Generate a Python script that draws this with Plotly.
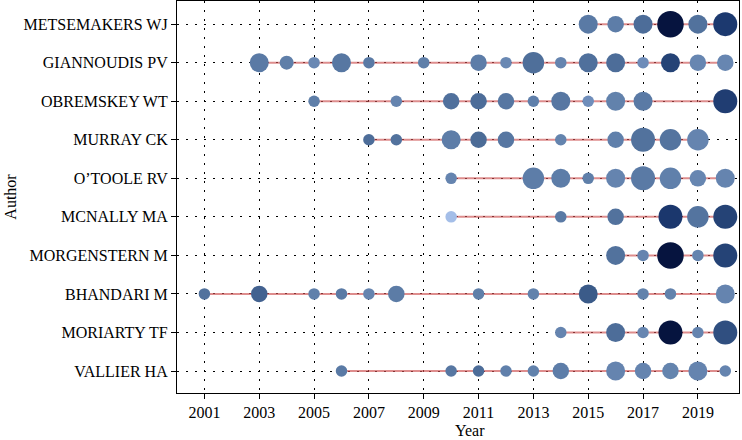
import plotly.graph_objects as go

# authors, bottom to top
authors = ["VALLIER HA", "MORIARTY TF", "BHANDARI M", "MORGENSTERN M", "MCNALLY MA",
           "O\u2019TOOLE RV", "MURRAY CK", "OBREMSKEY WT", "GIANNOUDIS PV", "METSEMAKERS WJ"]

# per author: publication years, number of papers, citation score (colour)
vallier_years = [2006, 2010, 2011, 2012, 2013, 2014, 2016, 2017, 2018, 2019, 2020]
vallier_n = [1, 1, 1, 1, 1, 3, 4, 3, 3, 4, 1]
vallier_tc = [50, 52, 58, 46, 45, 48, 42, 42, 43, 42, 42]

moriarty_years = [2014, 2016, 2017, 2018, 2019, 2020]
moriarty_n = [1, 4, 1, 6, 1, 6]
moriarty_tc = [42, 58, 40, 100, 42, 74]

bhandari_years = [2001, 2003, 2005, 2006, 2007, 2008, 2011, 2013, 2015, 2017, 2018, 2020]
bhandari_n = [1, 3, 1, 1, 1, 3, 1, 1, 4, 1, 1, 4]
bhandari_tc = [55, 64, 46, 50, 42, 49, 47, 45, 68, 45, 45, 42]

morgenstern_years = [2016, 2017, 2018, 2019, 2020]
morgenstern_n = [4, 1, 7, 1, 6]
morgenstern_tc = [55, 42, 100, 42, 80]

mcnally_years = [2010, 2014, 2016, 2018, 2019, 2020]
mcnally_n = [1, 1, 3, 6, 5, 6]
mcnally_tc = [2, 50, 55, 86, 54, 80]

otoole_years = [2010, 2013, 2014, 2015, 2016, 2017, 2018, 2019, 2020]
otoole_n = [1, 5, 4, 1, 4, 6, 5, 3, 4]
otoole_tc = [42, 48, 48, 47, 42, 50, 46, 40, 42]

murray_years = [2007, 2008, 2010, 2011, 2012, 2014, 2016, 2017, 2018, 2019]
murray_n = [1, 1, 4, 3, 3, 1, 3, 6, 5, 5]
murray_tc = [58, 55, 48, 59, 52, 43, 46, 55, 54, 42]

obremskey_years = [2005, 2008, 2010, 2011, 2012, 2013, 2014, 2015, 2016, 2017, 2020]
obremskey_n = [1, 1, 3, 3, 3, 1, 4, 1, 4, 4, 6]
obremskey_tc = [47, 42, 56, 58, 52, 46, 52, 30, 45, 50, 83]

giannoudis_years = [2003, 2004, 2005, 2006, 2007, 2009, 2011, 2012, 2013, 2014, 2015, 2016,
                    2017, 2018, 2019, 2020]
giannoudis_n = [4, 2, 1, 4, 1, 1, 3, 1, 5, 1, 4, 4, 1, 4, 3, 3]
giannoudis_tc = [50, 47, 38, 52, 50, 47, 48, 38, 57, 42, 56, 58, 32, 80, 40, 40]

metsemakers_years = [2015, 2016, 2017, 2018, 2019, 2020]
metsemakers_n = [4, 3, 4, 7, 4, 6]
metsemakers_tc = [50, 48, 58, 100, 55, 85]

year_ticks = list(range(2001, 2020, 2))

rows = [
    (vallier_years, vallier_n, vallier_tc),
    (moriarty_years, moriarty_n, moriarty_tc),
    (bhandari_years, bhandari_n, bhandari_tc),
    (morgenstern_years, morgenstern_n, morgenstern_tc),
    (mcnally_years, mcnally_n, mcnally_tc),
    (otoole_years, otoole_n, otoole_tc),
    (murray_years, murray_n, murray_tc),
    (obremskey_years, obremskey_n, obremskey_tc),
    (giannoudis_years, giannoudis_n, giannoudis_tc),
    (metsemakers_years, metsemakers_n, metsemakers_tc),
]

colorscale = [[0.0, "#a8c2ec"], [0.25, "#7592c0"], [0.45, "#6282ac"], [0.6, "#4a6a96"],
              [0.75, "#2e4d7e"], [0.88, "#17336a"], [1.0, "#06143f"]]

fig = go.Figure()

# timeline from first to last year of each author
for name, (yrs, n, tc) in zip(authors, rows):
    fig.add_trace(go.Scatter(
        x=[min(yrs), max(yrs)], y=[name, name], mode="lines",
        line=dict(color="rgba(205,80,80,0.65)", width=2),
        hoverinfo="skip", showlegend=False))

xs, ys, sizes, cols = [], [], [], []
for name, (yrs, n, tc) in zip(authors, rows):
    xs += yrs
    ys += [name] * len(yrs)
    sizes += [9 + 2.5 * k for k in n]
    cols += tc

fig.add_trace(go.Scatter(
    x=xs, y=ys, mode="markers",
    marker=dict(size=sizes, color=cols, colorscale=colorscale, cmin=0, cmax=100,
                opacity=1, line=dict(width=0)),
    showlegend=False))

font = "Liberation Serif, Times New Roman, serif"
fig.update_layout(
    width=742, height=440,
    margin=dict(l=177, r=3, t=1, b=47),
    paper_bgcolor="white", plot_bgcolor="white",
    font=dict(family=font, size=16, color="black"),
)
fig.update_xaxes(
    range=[2000, 2020.5], tickvals=year_ticks, automargin=False,
    showgrid=True, gridcolor="black", gridwidth=1, griddash="1.5px,7.5px",
    showline=True, linecolor="black", linewidth=1.2, mirror=True,
    ticks="outside", ticklen=5, tickcolor="black",
    tickfont=dict(size=16),
    zeroline=False)
fig.update_yaxes(
    type="category", categoryorder="array", categoryarray=authors,
    range=[-0.57, 9.6], automargin=False,
    showgrid=True, gridcolor="black", gridwidth=1, griddash="1.5px,7.5px",
    showline=True, linecolor="black", linewidth=1.2, mirror=True,
    ticks="outside", ticklen=5, tickcolor="black",
    tickfont=dict(size=16),
    title=dict(text="Author", font=dict(size=16), standoff=2),
    zeroline=False)

# x-axis title, placed just under the tick labels
fig.add_annotation(text="Year", xref="paper", yref="paper", x=0.521, y=0,
                   yshift=-37, yanchor="middle", showarrow=False,
                   font=dict(size=16))

fig.write_html("out.html", config={"displayModeBar": False},
               post_script="document.body.style.margin='0';")
